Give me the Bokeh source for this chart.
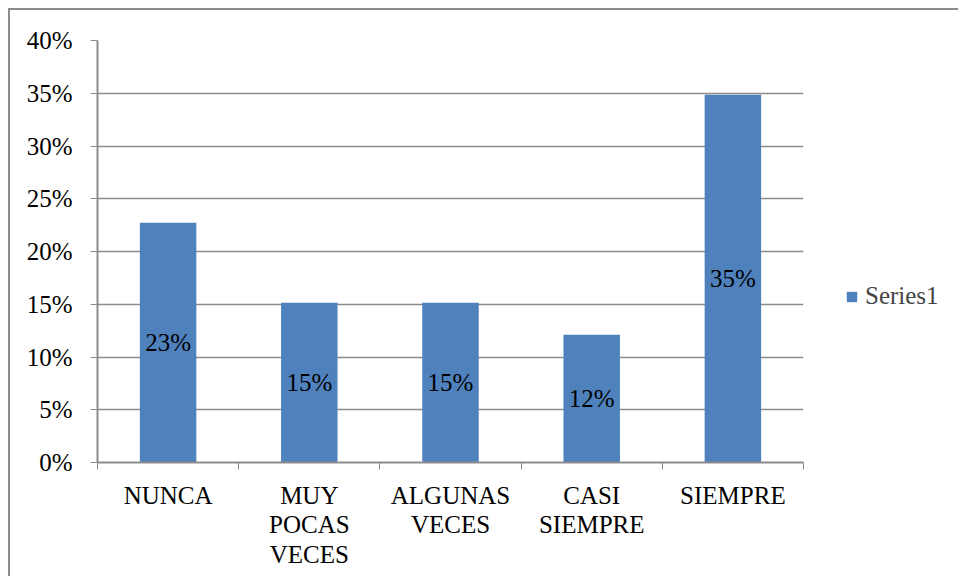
from bokeh.plotting import figure
from bokeh.models import (ColumnDataSource, Range1d, FixedTicker, NumeralTickFormatter,
                          Legend, LegendItem, LabelSet)
from bokeh.embed import file_html
from bokeh.resources import INLINE

categories = ["NUNCA", "MUY\nPOCAS\nVECES", "ALGUNAS\nVECES", "CASI\nSIEMPRE", "SIEMPRE"]
values = [0.2273, 0.1515, 0.1515, 0.1212, 0.3485]
y_ticks = [0.0, 0.05, 0.10, 0.15, 0.20, 0.25, 0.30, 0.35, 0.40]
series_name = "Series1"

FONT = "Liberation Serif"
FS = "25px"
BAR = "#4F81BD"
GRID = "#8C8C8C"

FW, FH = 706, 422
LEFT, TOP, RIGHT, BOTTOM = 87, 30, 154, 114

n = len(categories)
xs = [i + 0.5 for i in range(n)]
src = ColumnDataSource(dict(
    x=xs, top=values, mid=[v / 2 for v in values],
    lab=["{:.0f}%".format(v * 100) for v in values],
))

p = figure(frame_width=FW, frame_height=FH, output_backend="svg", toolbar_location=None,
           x_range=Range1d(0, n), y_range=Range1d(0, 0.40),
           min_border_left=LEFT, min_border_top=TOP, min_border_right=RIGHT,
           min_border_bottom=BOTTOM)
p.styles = {"border-left": "2px solid #8C8C8C", "border-top": "2px solid #8C8C8C",
            "margin-left": "8px", "margin-top": "8px"}
p.outline_line_color = None
p.background_fill_color = "white"
p.border_fill_color = "white"

r = p.vbar(x="x", top="top", width=0.40, bottom=0, source=src, color=BAR, line_color=None)

labels = LabelSet(x="x", y="mid", text="lab", source=src, text_align="center",
                  text_baseline="middle", text_font=FONT, text_font_size=FS, text_color="black")
p.add_layout(labels)

# x axis
p.xaxis.ticker = FixedTicker(ticks=xs, minor_ticks=list(range(n + 1)))
p.xaxis.major_label_overrides = {x: c for x, c in zip(xs, categories)}
p.xaxis.major_tick_line_color = None
p.xaxis.minor_tick_line_color = GRID
p.xaxis.minor_tick_out = 7
p.xaxis.minor_tick_in = 0
p.xaxis.axis_line_color = GRID
p.xaxis.axis_line_width = 2
p.xaxis.major_label_text_font = FONT
p.xaxis.major_label_text_font_size = FS
p.xaxis.major_label_text_color = "black"
p.xaxis.major_label_standoff = 12
p.xaxis.major_label_text_line_height = 1.1
p.xgrid.grid_line_color = None

# y axis
p.yaxis.ticker = FixedTicker(ticks=y_ticks)
p.yaxis.formatter = NumeralTickFormatter(format="0%")
p.yaxis.axis_line_color = GRID
p.yaxis.axis_line_width = 2
p.yaxis.major_tick_line_color = GRID
p.yaxis.major_tick_out = 7
p.yaxis.major_tick_in = 0
p.yaxis.minor_tick_line_color = None
p.yaxis.major_label_text_font = FONT
p.yaxis.major_label_text_font_size = FS
p.yaxis.major_label_text_color = "black"
p.yaxis.major_label_standoff = 18
p.ygrid.grid_line_color = GRID
p.ygrid.grid_line_width = 1.5

legend = Legend(items=[LegendItem(label=series_name, renderers=[r])],
                location=(42, 152), orientation="vertical",
                label_text_font=FONT, label_text_font_size=FS,
                glyph_width=13, glyph_height=13, label_standoff=7,
                padding=0, margin=0, spacing=0, border_line_color=None,
                background_fill_alpha=0)
p.add_layout(legend, "right")

open("out.html", "w").write(file_html(p, INLINE))
